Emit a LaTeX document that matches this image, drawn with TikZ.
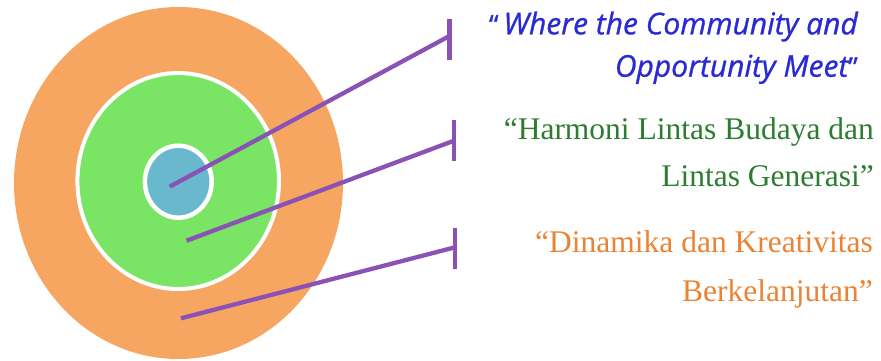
\documentclass[tikz,border=0pt]{standalone}
\usepackage{fontspec}
\setmainfont{Liberation Serif}
\newfontfamily\bluefont[FakeBold=0.9]{Open Sans}
\usetikzlibrary{shapes.geometric}
\definecolor{ringorange}{RGB}{247,166,98}
\definecolor{ringgreen}{RGB}{122,229,100}
\definecolor{ringblue}{RGB}{105,184,205}
\definecolor{linepurple}{RGB}{138,82,181}
\definecolor{txtblue}{RGB}{42,42,212}
\definecolor{txtgreen}{RGB}{44,125,48}
\definecolor{txtorange}{RGB}{234,132,52}
\tikzset{
  ring/.style={ellipse, inner sep=0pt, outer sep=0pt},
  conn/.style={draw=linepurple, line width=4.3pt},
  barnode/.style={rectangle, fill=linepurple, inner sep=0pt, outer sep=0pt, minimum width=4.8pt, minimum height=41pt},
  serifline/.style={anchor=base east, inner sep=0pt, font=\fontsize{31.5}{37}\selectfont},
  blueline/.style={anchor=base east, inner sep=0pt, text=txtblue, font=\bluefont\itshape\fontsize{30}{36}\selectfont}
}
\begin{document}
\begin{tikzpicture}[x=1pt,y=-1pt]
\useasboundingbox (0,0) rectangle (881,360);
% rings
\node[ring, fill=ringorange, minimum width=329pt, minimum height=352pt] (outer) at (178.5,183) {};
\node[ring, fill=ringgreen, draw=white, line width=4pt, minimum width=201.6pt, minimum height=216pt] (middle) at (178.2,181) {};
\node[ring, fill=ringblue, draw=white, line width=4.5pt, minimum width=66.8pt, minimum height=72pt] (inner) at (178.3,181.7) {};
% bars
\node[barnode] (bar1) at (449.5,39.5) {};
\node[barnode] (bar2) at (454,140) {};
\node[barnode] (bar3) at (455,248.8) {};
% connector ends
\coordinate (s1) at (169.8,186.6);
\coordinate (e1) at (449.5,36);
\coordinate (s2) at (186.5,240.7);
\coordinate (e2) at (454,140.7);
\coordinate (s3) at (181,318.3);
\coordinate (e3) at (455,247.3);
\draw[conn] (s1) -- (e1);
\draw[conn] (s2) -- (e2);
\draw[conn] (s3) -- (e3);
% texts
\node[blueline] (q1a) at (858,34.3) {{\upshape\fontsize{27}{30}\selectfont “}\,Where the Community and};
\node[blueline] (q1b) at (858,76.7) {Opportunity Meet{\upshape\fontsize{27}{30}\selectfont ”}};
\node[serifline, text=txtgreen] (q2a) at (874,139.3) {“Harmoni Lintas Budaya dan};
\node[serifline, text=txtgreen] (q2b) at (874,186) {Lintas Generasi”};
\node[serifline, text=txtorange] (q3a) at (873,252.3) {“Dinamika dan Kreativitas};
\node[serifline, text=txtorange] (q3b) at (873,301) {Berkelanjutan”};
\end{tikzpicture}
\end{document}
